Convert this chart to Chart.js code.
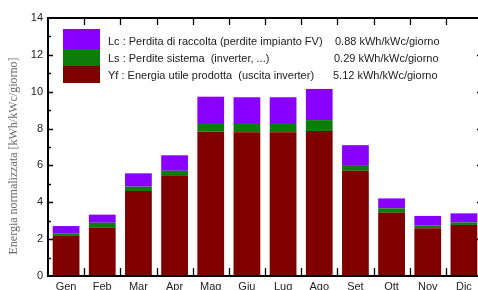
<!DOCTYPE html>
<html lang="it">
<head>
    <meta charset="UTF-8">
    <title>Energia normalizzata</title>
    <script src="https://cdn.jsdelivr.net/npm/chart.js"></script>
    <style>
        html, body { margin: 0; padding: 0; background: #fff; overflow: hidden; }
        #wrap { width: 478px; height: 290px; overflow: hidden; position: relative; }
        canvas { position: absolute; left: 0; top: 0; }
    </style>
</head>
<body>
    <div id="wrap">
        <canvas id="chart" width="500" height="300"></canvas>
    </div>

    <script>
        // values (kWh/kWc/giorno)
        let months = ['Gen', 'Feb', 'Mar', 'Apr', 'Mag', 'Giu', 'Lug', 'Ago', 'Set', 'Ott', 'Nov', 'Dic'];
        let yfValues = [2.18, 2.61, 4.61, 5.42, 7.83, 7.80, 7.80, 7.87, 5.71, 3.43, 2.59, 2.77];
        let lsValues = [0.14, 0.28, 0.24, 0.29, 0.42, 0.45, 0.45, 0.59, 0.31, 0.24, 0.14, 0.14];
        let lcValues = [0.39, 0.44, 0.72, 0.84, 1.48, 1.45, 1.45, 1.69, 1.08, 0.54, 0.53, 0.49];

        let legendLabels = [
            'Lc : Perdita di raccolta (perdite impianto FV)',
            'Ls : Perdite sistema  (inverter, ...)',
            'Yf : Energia utile prodotta  (uscita inverter)'
        ];
        let legendValues = ['0.88 kWh/kWc/giorno', '0.29 kWh/kWc/giorno', '5.12 kWh/kWc/giorno'];

        const purple = '#8a00ff';
        const green = '#0b7d0b';
        const darkRed = '#800000';
        const sans = '"Liberation Sans", Arial, sans-serif';

        // frame ticks (pointing inward), y label and the legend box
        const decorations = {
            id: 'decorations',
            afterDraw(chart) {
                let ctx = chart.ctx;
                let area = chart.chartArea;
                let x = chart.scales.x;
                let y = chart.scales.y;
                ctx.save();
                ctx.strokeStyle = '#000';
                ctx.lineWidth = 1.3;

                // category boundary ticks, bottom and top
                let step = (x.right - x.left) / months.length;
                for (let i = 1; i < months.length; i++) {
                    let px = Math.round(x.left + i * step) + 0.5;
                    ctx.beginPath();
                    ctx.moveTo(px, area.bottom);
                    ctx.lineTo(px, area.bottom - 8);
                    ctx.moveTo(px, area.top);
                    ctx.lineTo(px, area.top + 7);
                    ctx.stroke();
                }

                // y ticks left and right
                for (let v = 1; v < 14; v++) {
                    let py = Math.round(y.getPixelForValue(v)) + 0.5;
                    let len = v % 2 === 0 ? 5 : 3;
                    ctx.beginPath();
                    ctx.moveTo(area.left, py);
                    ctx.lineTo(area.left + len, py);
                    ctx.moveTo(area.right, py);
                    ctx.lineTo(area.right - len, py);
                    ctx.stroke();
                }

                // frame
                ctx.lineWidth = 2;
                ctx.beginPath();
                ctx.moveTo(area.right, area.top);
                ctx.lineTo(area.left, area.top);
                ctx.lineTo(area.left, area.bottom);
                ctx.lineTo(area.right, area.bottom);
                ctx.lineTo(area.right, area.top);
                ctx.stroke();

                // y axis label
                ctx.save();
                ctx.translate(14, 156);
                ctx.rotate(-Math.PI / 2);
                ctx.fillStyle = '#6a6a6a';
                ctx.font = '12px "Liberation Serif", "Times New Roman", serif';
                ctx.textAlign = 'center';
                ctx.textBaseline = 'middle';
                ctx.fillText('Energia normalizzata [kWh/kWc/giorno]', 0, 0);
                ctx.restore();

                // legend
                let colors = [purple, green, darkRed];
                let boxTops = [29, 49, 66, 83];
                for (let i = 0; i < 3; i++) {
                    ctx.fillStyle = colors[i];
                    ctx.fillRect(63, boxTops[i], 37, boxTops[i + 1] - boxTops[i]);
                }
                ctx.fillStyle = '#1a1a1a';
                ctx.font = '11px ' + sans;
                ctx.textBaseline = 'middle';
                ctx.textAlign = 'left';
                let rowY = [41.5, 59, 76];
                let valueX = [335, 334, 333];
                for (let i = 0; i < 3; i++) {
                    ctx.fillText(legendLabels[i], 108, rowY[i]);
                    ctx.fillText(legendValues[i], valueX[i], rowY[i]);
                }
                ctx.restore();
            }
        };

        let ctx = document.getElementById('chart').getContext('2d');
        let chart = new Chart(ctx, {
            type: 'bar',
            data: {
                labels: months,
                datasets: [
                    { label: 'Yf', data: yfValues, backgroundColor: darkRed },
                    { label: 'Ls', data: lsValues, backgroundColor: green },
                    { label: 'Lc', data: lcValues, backgroundColor: purple }
                ]
            },
            options: {
                responsive: false,
                animation: false,
                devicePixelRatio: 1,
                datasets: {
                    bar: { categoryPercentage: 1, barPercentage: 0.74, borderWidth: 0 }
                },
                layout: { padding: { top: 18, right: 18, left: 0, bottom: 0 } },
                plugins: {
                    legend: { display: false },
                    tooltip: { enabled: false }
                },
                scales: {
                    x: {
                        stacked: true,
                        grid: { display: false, drawTicks: false },
                        border: { display: false },
                        ticks: { color: '#222', font: { family: sans, size: 11 }, padding: 4 },
                        afterFit(scale) { scale.height = 24; }
                    },
                    y: {
                        stacked: true,
                        min: 0,
                        max: 14,
                        grid: { display: false, drawTicks: false },
                        border: { display: false },
                        ticks: { stepSize: 2, color: '#222', font: { family: sans, size: 11 }, padding: 5 },
                        afterFit(scale) { scale.width = 48; }
                    }
                }
            },
            plugins: [decorations]
        });
    </script>
</body>
</html>
